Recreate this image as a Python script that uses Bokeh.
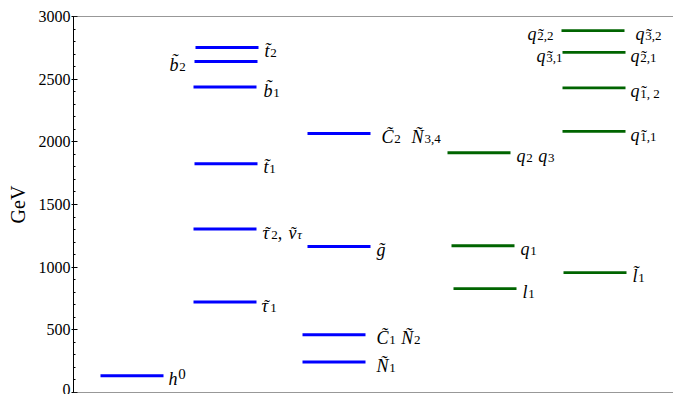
from bokeh.plotting import figure
from bokeh.models import Range1d, SingleIntervalTicker, Span, ColumnDataSource
from bokeh.embed import file_html
from bokeh.resources import INLINE
from bokeh.core.properties import value

# ---------------- data (GeV) ----------------
level_names = ["h0", "t2", "b2", "b1", "t1", "tau2", "tau1",
               "C2N34", "gluino", "C1N2", "N1",
               "q2q3", "q1", "l1",
               "sq22", "sq31", "sq12", "sq11", "sl1"]
level_masses = [134, 2753, 2641, 2437, 1825, 1304, 722,
                2067, 1165, 461, 243,
                1913, 1171, 828,
                2888, 2713, 2431, 2083, 956]
level_groups = ["blue"] * 11 + ["green"] * 8

# label texts: (level, [(text, kind, tilde-over-first-char), ...])
label_level = ["h0", "t2", "b2", "b1", "t1", "tau2", "tau1",
               "C2N34", "gluino", "C1N2", "N1",
               "q2q3", "q1", "l1",
               "sq22", "sq22", "sq31", "sq31", "sq12", "sq11", "sl1"]
label_parts = [
    [("h", "i", 0), ("0", "sup", 0)],
    [("t\u0303", "i", 0), ("2", "s", 0)],
    [("b\u0303", "i", 0), ("2", "s", 0)],
    [("b\u0303", "i", 0), ("1", "s", 0)],
    [("t\u0303", "i", 0), ("1", "s", 0)],
    [("\u03c4", "i", 1), ("2", "s", 0), (",", "i", 0), (" \u03bd", "i", 1), ("\u03c4", "si", 0)],
    [("\u03c4", "i", 1), ("1", "s", 0)],
    [("C\u0303", "i", 0), ("2", "s", 0), ("  \u00d1", "i", 0), ("3,4", "s", 0)],
    [("g\u0303", "i", 0)],
    [("C\u0303", "i", 0), ("1", "s", 0), (" \u00d1", "i", 0), ("2", "s", 0)],
    [("\u00d1", "i", 0), ("1", "s", 0)],
    [("q", "i", 0), ("2", "s", 0), (" q", "i", 0), ("3", "s", 0)],
    [("q", "i", 0), ("1", "s", 0)],
    [("l", "i", 0), ("1", "s", 0)],
    [("q", "i", 0), ("2,2", "s", 1)],
    [("q", "i", 0), ("3,2", "s", 1)],
    [("q", "i", 0), ("3,1", "s", 1)],
    [("q", "i", 0), ("2,1", "s", 1)],
    [("q", "i", 0), ("1, 2", "s", 1)],
    [("q", "i", 0), ("1,1", "s", 1)],
    [("l\u0303", "i", 0), ("1", "s", 0)],
]

# ---------------- layout (x in screen-like px units) ----------------
line_x0 = [27, 122, 121, 120, 121, 120, 120,
           234, 234, 229, 229,
           374, 378, 380,
           488, 489, 489, 489, 490]
LINE_LEN = 63
label_x = [95, 191, 96, 190, 190, 189, 188,
           308, 303, 303, 303,
           443, 447, 449,
           454, 562, 463, 557, 557, 557, 559]

COLORS = {"blue": "#0000ff", "green": "#006400"}
WIDTHS = {"blue": 3, "green": 2.8}

KINDS = {  # font px, style, baseline offset (px, downward)
    "i": (18, "italic", 3.5),
    "s": (13, "normal", 5.5),
    "si": (13, "italic", 5.5),
    "sup": (15, "normal", -1.5),
}
ITALIC_W = {"h": 0.5, "t": 0.278, "b": 0.5, "q": 0.5, "l": 0.278, "g": 0.5,
            "C": 0.667, "\u00d1": 0.667, "\u03c4": 0.44, "\u03bd": 0.44,
            " ": 0.3, ",": 0.25}
REG_W = {",": 0.25, " ": 0.25}


def text_width(txt, kind):
    size, style, _ = KINDS[kind]
    w = 0.0
    for ch in txt:
        if ch == "\u0303":
            continue
        if style == "italic":
            w += ITALIC_W.get(ch, 0.5)
        else:
            w += REG_W.get(ch, 0.5)
    return w * size


p = figure(width=673, height=394, output_backend="svg", toolbar_location=None,
           x_range=Range1d(0, 600), y_range=Range1d(0, 3000),
           x_axis_location=None, min_border_left=73, min_border_right=0,
           min_border_top=16, min_border_bottom=2,
           background_fill_color="white", border_fill_color="white")
p.outline_line_color = None
p.grid.grid_line_color = None

mass_of = dict(zip(level_names, level_masses))

for grp in ["blue", "green"]:
    idx = [i for i, g in enumerate(level_groups) if g == grp]
    src = ColumnDataSource(dict(
        x0=[line_x0[i] for i in idx],
        x1=[line_x0[i] + LINE_LEN for i in idx],
        y=[level_masses[i] for i in idx]))
    p.segment(x0="x0", y0="y", x1="x1", y1="y", source=src,
              line_color=COLORS[grp], line_width=WIDTHS[grp])

texts = {k: dict(x=[], y=[], text=[], xo=[], yo=[]) for k in KINDS}
tildes = dict(x=[], y=[], text=[], xo=[], yo=[])
for lvl, parts, lx in zip(label_level, label_parts, label_x):
    off = 0.0
    for txt, kind, tl in parts:
        stripped = txt.lstrip(" ")
        off += text_width(txt[: len(txt) - len(stripped)], kind)
        d = texts[kind]
        d["x"].append(lx)
        d["y"].append(mass_of[lvl])
        d["text"].append(stripped)
        d["xo"].append(off)
        d["yo"].append(KINDS[kind][2])
        if tl:
            first_w = text_width(stripped[0], kind)
            skew = 1.5 if KINDS[kind][1] == "italic" else 0.5
            tildes["x"].append(lx)
            tildes["y"].append(mass_of[lvl])
            tildes["text"].append("\u02dc")
            tildes["xo"].append(off + first_w / 2 + skew)
            tildes["yo"].append(KINDS[kind][2] - (1.5 if kind == "s" else 0.0))
        off += text_width(stripped, kind) + (0.8 if kind == "i" else 0.0)

for kind, d in texts.items():
    if not d["x"]:
        continue
    size, style, _ = KINDS[kind]
    p.text(x="x", y="y", text="text", x_offset="xo", y_offset="yo",
           source=ColumnDataSource(d), text_font=value("Liberation Serif"),
           text_font_size=f"{size}px", text_font_style=style,
           text_baseline="alphabetic", text_align="left", text_color="black")

p.text(x="x", y="y", text="text", x_offset="xo", y_offset="yo",
       source=ColumnDataSource(tildes), text_font=value("Liberation Serif"),
       text_font_size="17px", text_font_style="normal",
       text_baseline="alphabetic", text_align="center", text_color="black")

# frame lines top/bottom
p.add_layout(Span(location=3000, dimension="width", line_color="#333333", line_width=1))
p.add_layout(Span(location=0, dimension="width", line_color="#333333", line_width=1))

ax = p.yaxis[0]
ax.ticker = SingleIntervalTicker(interval=500, num_minor_ticks=5)
ax.axis_label = "GeV"
ax.axis_label_text_font = "Liberation Serif"
ax.axis_label_text_font_style = "normal"
ax.axis_label_text_font_size = "20px"
ax.axis_label_text_color = "black"
ax.axis_label_standoff = 7
ax.major_label_text_font = "Liberation Serif"
ax.major_label_text_font_size = "16px"
ax.major_label_text_color = "black"
ax.major_label_standoff = 1
ax.major_tick_in = 4
ax.major_tick_out = 2
ax.minor_tick_in = 2
ax.minor_tick_out = 0
ax.axis_line_color = "black"
ax.major_tick_line_color = "black"
ax.minor_tick_line_color = "black"

open("out.html", "w").write(file_html(p, INLINE))
